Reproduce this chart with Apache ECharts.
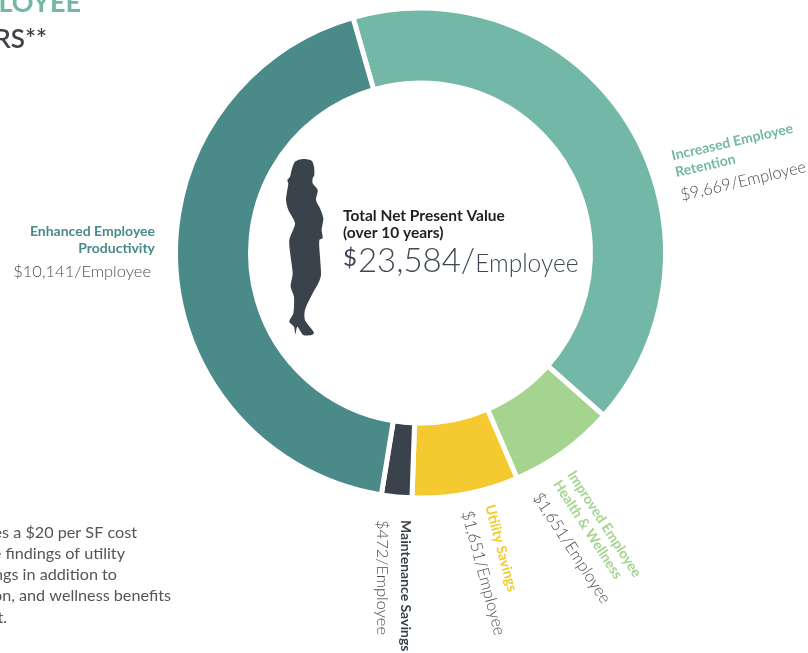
<!DOCTYPE html>
<html>
<head>
<meta charset="utf-8">
<style>html,body{margin:0;padding:0;background:#fff;overflow:hidden}#c{width:808px;height:653px}</style>
<script src="https://cdn.jsdelivr.net/npm/echarts@6/dist/echarts.min.js"></script>
</head>
<body>
<div id="c"></div>
<script>
// Net present value per employee, listed clockwise around the ring
const categories = ['Increased Employee\nRetention', 'Improved Employee\nHealth & Wellness', 'Utility Savings', 'Maintenance Savings', 'Enhanced Employee\nProductivity'];
const values = [9669, 1651, 1651, 472, 10141];
const totalValue = 23584;
const sliceColors = ['#73b8a6', '#a5d490', '#f5ca30', '#3a424c', '#4a8a88'];
const nameColors = ['#73b8a6', '#a5d490', '#f5ca30', '#3a424c', '#4a8a88'];

// Where each label block sits and how it is turned
const labelPlacement = [
  { x: 677, y: 179, rotate: 13, align: 'left' },
  { x: 551, y: 485, rotate: -57, align: 'left' },
  { x: 475, y: 509, rotate: -75, align: 'left' },
  { x: 391, y: 520, rotate: -90, align: 'left' },
  { x: 155, y: 255, rotate: 0, align: 'right' }
];
const money = n => '$' + n.toLocaleString('en-US');
const FONT = 'Lato';

// Outline of the standing figure beside the total
const figure = [[75,35],[100,27],[125,32],[132,50],[133,75],[128,85],[128,100],[143,120],[138,150],[150,175],[160,205],[155,240],[158,265],[148,270],[150,320],[153,375],[145,400],[128,430],[105,480],[105,510],[132,548],[125,555],[100,555],[82,530],[76,552],[72,530],[58,515],[70,490],[72,440],[62,410],[68,370],[62,320],[58,270],[75,220],[55,180],[48,150],[55,100],[52,90],[60,80],[65,60]];

const chart = echarts.init(document.getElementById('c'), null, { renderer: 'canvas' });

// Text cut by the page edge on the left
const clippedLines = [
  { text: 'EMPLOYEE', right: 81, y: 3, font: 'bold 27px ' + FONT, color: '#73b8a6' },
  { text: 'YEARS**', right: 47, y: 40, font: '600 26px ' + FONT, color: '#3f4348' },
  { text: 'includes a $20 per SF cost', right: 137, y: 533, font: '16.2px ' + FONT, color: '#555' },
  { text: 'the findings of utility', right: 125, y: 554, font: '16.2px ' + FONT, color: '#555' },
  { text: 'savings in addition to', right: 117, y: 575, font: '16.2px ' + FONT, color: '#555' },
  { text: 'retention, and wellness benefits', right: 171, y: 596, font: '16.2px ' + FONT, color: '#555' },
  { text: 'result.', right: 7, y: 618, font: '16.2px ' + FONT, color: '#555' }
];

chart.setOption({
  animation: false,
  backgroundColor: '#fff',
  series: [{
    type: 'pie',
    center: [420.5, 253],
    radius: [170, 245],
    startAngle: 106,
    clockwise: true,
    avoidLabelOverlap: false,
    silent: true,
    itemStyle: { borderColor: '#fff', borderWidth: 5 },
    labelLine: { show: false },
    label: {
      position: 'outside',
      fontFamily: FONT,
      formatter: p => p.name.split('\n').map(l => '{n' + p.dataIndex + '|' + l + '}').join('\n') + '\n{v' + (p.dataIndex === 4 ? 'r' : '') + '|' + money(p.value) + '/Employee}',
      rich: Object.assign({
        v: { fontFamily: FONT, fontSize: 16.5, fontWeight: 300, color: '#4a4f55', lineHeight: 30, align: 'left' },
        vr: { fontFamily: FONT, fontSize: 16.5, fontWeight: 300, color: '#4a4f55', lineHeight: 30, align: 'right', padding: [0, 4, 0, 0] }
      }, Object.fromEntries(nameColors.map((c, i) => ['n' + i, {
        fontFamily: FONT, fontSize: 14, fontWeight: 'bold', color: c, lineHeight: 17, align: i === 4 ? 'right' : 'left'
      }])))
    },
    labelLayout: p => {
      const s = labelPlacement[p.dataIndex];
      return { x: s.x, y: s.y, rotate: s.rotate, align: s.align, verticalAlign: 'middle' };
    },
    data: categories.map((name, i) => ({ name, value: values[i], itemStyle: { color: sliceColors[i] } }))
  }],
  graphic: [
    {
      type: 'polygon',
      x: 270, y: 150, scaleX: 1 / 3, scaleY: 1 / 3,
      shape: { points: figure, smooth: 0.25 },
      style: { fill: '#3a424c' }
    },
    {
      type: 'text', left: 343, top: 207,
      style: { text: 'Total Net Present Value\n(over 10 years)', font: 'bold 15.5px ' + FONT, fill: '#231f20', lineHeight: 17 }
    },
    {
      type: 'text', left: 343, top: 245,
      style: {
        text: '{d|$}{b|' + totalValue.toLocaleString('en-US') + '/}{e|Employee}',
        rich: {
          d: { font: '24px ' + FONT, fill: '#3f4854', padding: [0, 1, 6, 0] },
          b: { font: '300 33px ' + FONT, fill: '#3f4854' },
          e: { font: '300 24.5px ' + FONT, fill: '#3f4854', padding: [5, 0, 0, 0] }
        }
      }
    }
  ].concat(clippedLines.map(l => ({
    type: 'text', x: l.right, y: l.y,
    style: { text: l.text, font: l.font, fill: l.color, align: 'right', verticalAlign: 'middle' }
  })))
});
</script>
</body>
</html>
